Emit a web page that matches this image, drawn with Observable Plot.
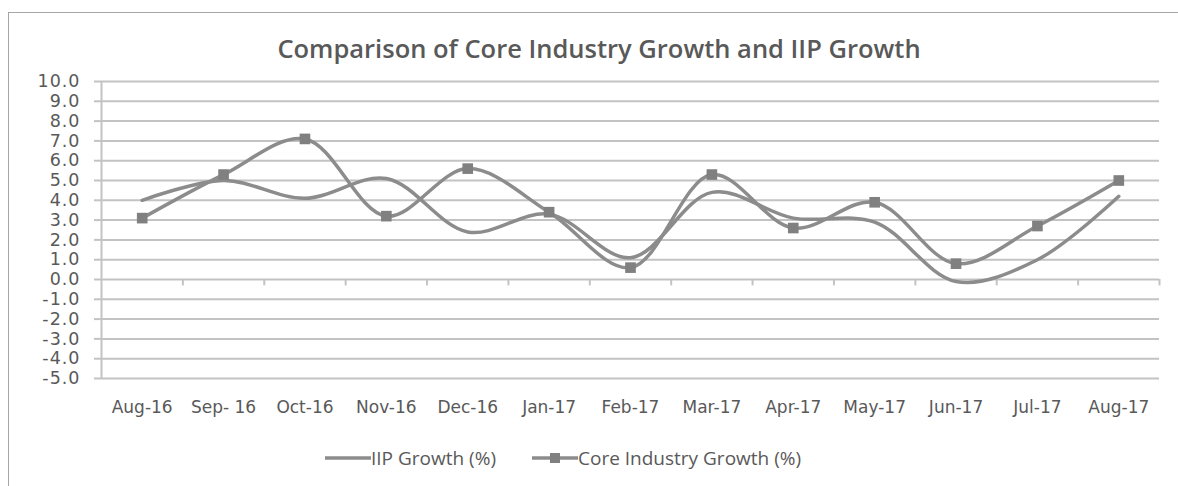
<!DOCTYPE html>
<html><head><meta charset="utf-8">
<script src="https://cdn.jsdelivr.net/npm/d3@7"></script>
<script src="https://cdn.jsdelivr.net/npm/@observablehq/plot@0.6"></script>
<style>
body{margin:0;background:#fff;}
#wrap{position:relative;width:1178px;height:486px;overflow:hidden;font-family:"Open Sans",sans-serif;background:#fff;}
#frame{position:absolute;left:8px;top:12px;width:1300px;height:600px;border:1.5px solid #a6a6a6;}
#title{position:absolute;left:0;top:31px;width:1198px;text-align:center;font-size:25.5px;font-weight:600;color:#595959;}
#chart{position:absolute;left:0;top:0;}
#legend{position:absolute;left:0;top:444px;width:1178px;height:28px;font-size:19px;color:#595959;}
#legend .item{position:absolute;top:0;display:flex;align-items:center;height:28px;}
.ylab text{letter-spacing:1px;}
</style>
</head><body>
<div id="wrap">
  <div id="frame"></div>
  <div id="chart"></div>
  <div id="title">Comparison of Core Industry Growth and IIP Growth</div>
  <div id="legend"></div>
</div>
<script>
const months = ["Aug-16","Sep- 16","Oct-16","Nov-16","Dec-16","Jan-17","Feb-17","Mar-17","Apr-17","May-17","Jun-17","Jul-17","Aug-17"];
const iipGrowth = [4.0,5.0,4.1,5.1,2.4,3.3,1.1,4.4,3.1,2.9,-0.1,1.0,4.2];
const coreGrowth = [3.1,5.3,7.1,3.2,5.6,3.4,0.6,5.3,2.6,3.9,0.8,2.7,5.0];
const yTicks = d3.range(-5, 10.001, 1);
const seriesNames = ["IIP Growth (%)", "Core Industry Growth (%)"];

const iipData = months.map((m, i) => ({i, v: iipGrowth[i]}));
const coreData = months.map((m, i) => ({i, v: coreGrowth[i]}));
const boundaries = d3.range(1, months.length + 1).map(k => k - 0.5);

const grid = "#c3c3c3";
const lineColor = "#8c8c8c";

const plot = Plot.plot({
  width: 1178,
  height: 430,
  marginLeft: 101,
  marginRight: 19,
  marginTop: 81,
  marginBottom: 52,
  x: {domain: [-0.5, months.length - 0.5]},
  y: {domain: [-5, 10]},
  style: {fontFamily: "'DejaVu Sans', sans-serif", background: "transparent"},
  marks: [
    Plot.ruleY(yTicks, {stroke: grid, strokeWidth: 2}),
    Plot.ruleX([-0.5], {stroke: grid, strokeWidth: 2}),
    Plot.ruleX(boundaries, {x: d => d, y1: 0, y2: -0.32, stroke: grid, strokeWidth: 2}),
    Plot.axisY(yTicks, {tickSize: 7, tickPadding: 14, stroke: grid, strokeWidth: 2, fill: "#595959", fontSize: 17.5, tickFormat: d => d.toFixed(1), label: null, className: "ylab"}),
    Plot.axisX(d3.range(months.length), {tickSize: 0, tickPadding: 22, fill: "#595959", fontSize: 17, tickFormat: i => months[i], label: null}),
    Plot.line(iipData, {x: "i", y: "v", curve: "catmull-rom", stroke: lineColor, strokeWidth: 3.5}),
    Plot.line(coreData, {x: "i", y: "v", curve: "catmull-rom", stroke: lineColor, strokeWidth: 3.5}),
    Plot.dot(coreData, {x: "i", y: "v", symbol: "square", r: 6, fill: "#808080", stroke: "none"})
  ]
});
document.getElementById("chart").appendChild(plot);

// legend
const legend = document.getElementById("legend");
const items = [
  {name: seriesNames[0], left: 325, marker: false},
  {name: seriesNames[1], left: 532, marker: true}
];
for (const it of items) {
  const d = document.createElement("div");
  d.className = "item";
  d.style.left = it.left + "px";
  const sw = `<svg width="46" height="28" style="display:block"><line x1="0" y1="14" x2="46" y2="14" stroke="${lineColor}" stroke-width="3.5"/>${it.marker ? '<rect x="18" y="9" width="10" height="10" fill="#808080"/>' : ''}</svg>`;
  d.innerHTML = sw + `<span>${it.name}</span>`;
  legend.appendChild(d);
}
</script>
</body></html>
